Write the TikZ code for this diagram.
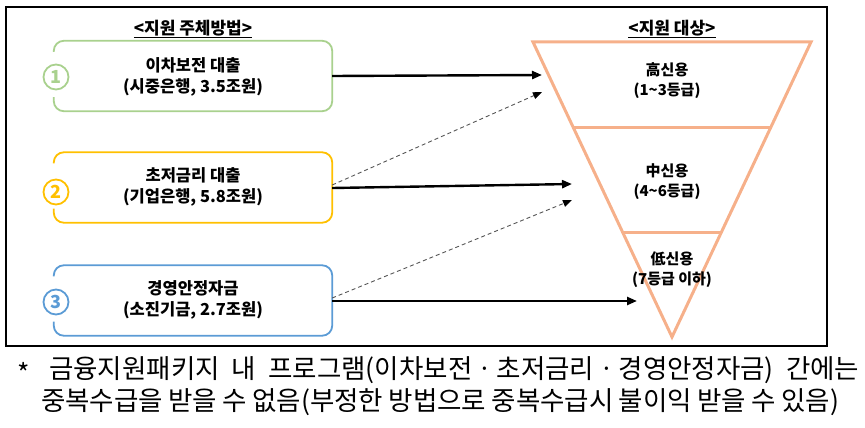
\documentclass[tikz,border=0pt]{standalone}
\usepackage{fontspec}
\setmainfont{Noto Sans CJK KR}
\usetikzlibrary{arrows.meta,calc}
\definecolor{cgreen}{HTML}{A9D18E}
\definecolor{corange}{HTML}{FFC000}
\definecolor{cblue}{HTML}{5B9BD5}
\definecolor{csalmon}{HTML}{F6B08A}
\definecolor{cdash}{HTML}{555555}
\tikzset{
  boxarea/.style={minimum width=278pt,minimum height=70pt,inner sep=0pt,draw=none},
  boxtext/.style={align=center,font=\fontsize{16.5}{21}\selectfont\bfseries,inner sep=0pt},
  numcirc/.style={circle,line width=1.8pt,minimum size=25pt,inner sep=0pt,font=\fontsize{18}{18}\selectfont\bfseries},
  boxborder/.style={rounded corners=10pt,line width=1.8pt},
  solidarrow/.style={line width=2.4pt,-{Triangle[length=10pt,width=8pt]}},
  dasharrow/.style={line width=0.9pt,cdash,dash pattern=on 4pt off 3pt,-{Triangle[length=9pt,width=7pt,black]}},
  titletext/.style={font=\fontsize{17}{18}\selectfont\bfseries,inner sep=0pt},
  tritext/.style={align=center,font=\fontsize{15}{20}\selectfont\bfseries,inner sep=0pt},
  foot/.style={font=\fontsize{26.5}{28}\selectfont,inner sep=0pt,anchor=west}
}
\begin{document}
\begin{tikzpicture}[x=1pt,y=-1pt]
\useasboundingbox (0,0) rectangle (865,428);
% outer frame
\draw[line width=1.5pt] (6,7) rectangle (827,346);
% titles
\node[titletext] (title1) at (193,29) {\underline{<지원 주체방법>}};
\node[titletext] (title2) at (672,29) {\underline{<지원 대상>}};
% boxes
\node[boxarea] (b1) at (193,76) {};
\node[boxarea] (b2) at (193,187.5) {};
\node[boxarea] (b3) at (193,300.5) {};
\draw[boxborder,cgreen] ([yshift=-11pt]b1.north west) -- (b1.north west) -- (b1.north east) -- (b1.south east) -- (b1.south west) -- ([yshift=14pt]b1.south west);
\draw[boxborder,corange] ([yshift=-11pt]b2.north west) -- (b2.north west) -- (b2.north east) -- (b2.south east) -- (b2.south west) -- ([yshift=14pt]b2.south west);
\draw[boxborder,cblue] ([yshift=-11pt]b3.north west) -- (b3.north west) -- (b3.north east) -- (b3.south east) -- (b3.south west) -- ([yshift=14pt]b3.south west);
\node[boxtext] (bt1) at (193,77) {이차보전 대출\\(시중은행, 3.5조원)};
\node[boxtext] (bt2) at (193,187) {초저금리 대출\\(기업은행, 5.8조원)};
\node[boxtext] (bt3) at (193,300) {경영안정자금\\(소진기금, 2.7조원)};
\node[numcirc,draw=cgreen,text=cgreen] (n1) at (56,77) {1};
\node[numcirc,draw=corange,text=corange] (n2) at (56,192) {2};
\node[numcirc,draw=cblue,text=cblue] (n3) at (56,302) {3};
% inverted triangle
\coordinate (tl) at (533,42);
\coordinate (tr) at (811,42);
\coordinate (ap) at (672,337);
\draw[csalmon,line width=3pt,line join=miter] (tl) -- (tr) -- (ap) -- cycle;
\coordinate (d1l) at (573,127);
\coordinate (d1r) at (771,127);
\coordinate (d2l) at (622.5,232);
\coordinate (d2r) at (721.5,232);
\draw[csalmon,line width=3pt] (d1l) -- (d1r);
\draw[csalmon,line width=3pt] (d2l) -- (d2r);
\node[tritext] (t1) at (667,81) {高신용\\(1\textasciitilde 3등급)};
\node[tritext] (t2) at (667,182) {中신용\\(4\textasciitilde 6등급)};
\node[tritext] (t3) at (672,270) {低신용\\(7등급 이하)};
% arrow end points
\coordinate (e1) at (542,75);
\coordinate (e1d) at (542,92);
\coordinate (e2) at (572,184);
\coordinate (e2d) at (572,200);
\coordinate (e3) at (637,301);
\draw[solidarrow] (b1.east) -- (e1);
\draw[dasharrow] ([yshift=2.5pt]b2.east) -- (e1d);
\draw[solidarrow] ([yshift=-0.5pt]b2.east) -- (e2);
\draw[dasharrow] ([yshift=2.5pt]b3.east) -- (e2d);
\draw[solidarrow] ([yshift=-0.5pt]b3.east) -- (e3);
% footnote
\node[foot] (star) at (17,373) {*};
\node[foot] (f1) at (49,370) {\makebox[810pt][s]{금융지원패키지 내 프로그램(이차보전ㆍ초저금리ㆍ경영안정자금) 간에는}};
\node[foot] (f2) at (41,402) {\makebox[798pt][s]{중복수급을 받을 수 없음(부정한 방법으로 중복수급시 불이익 받을 수 있음)}};
\end{tikzpicture}
\end{document}
